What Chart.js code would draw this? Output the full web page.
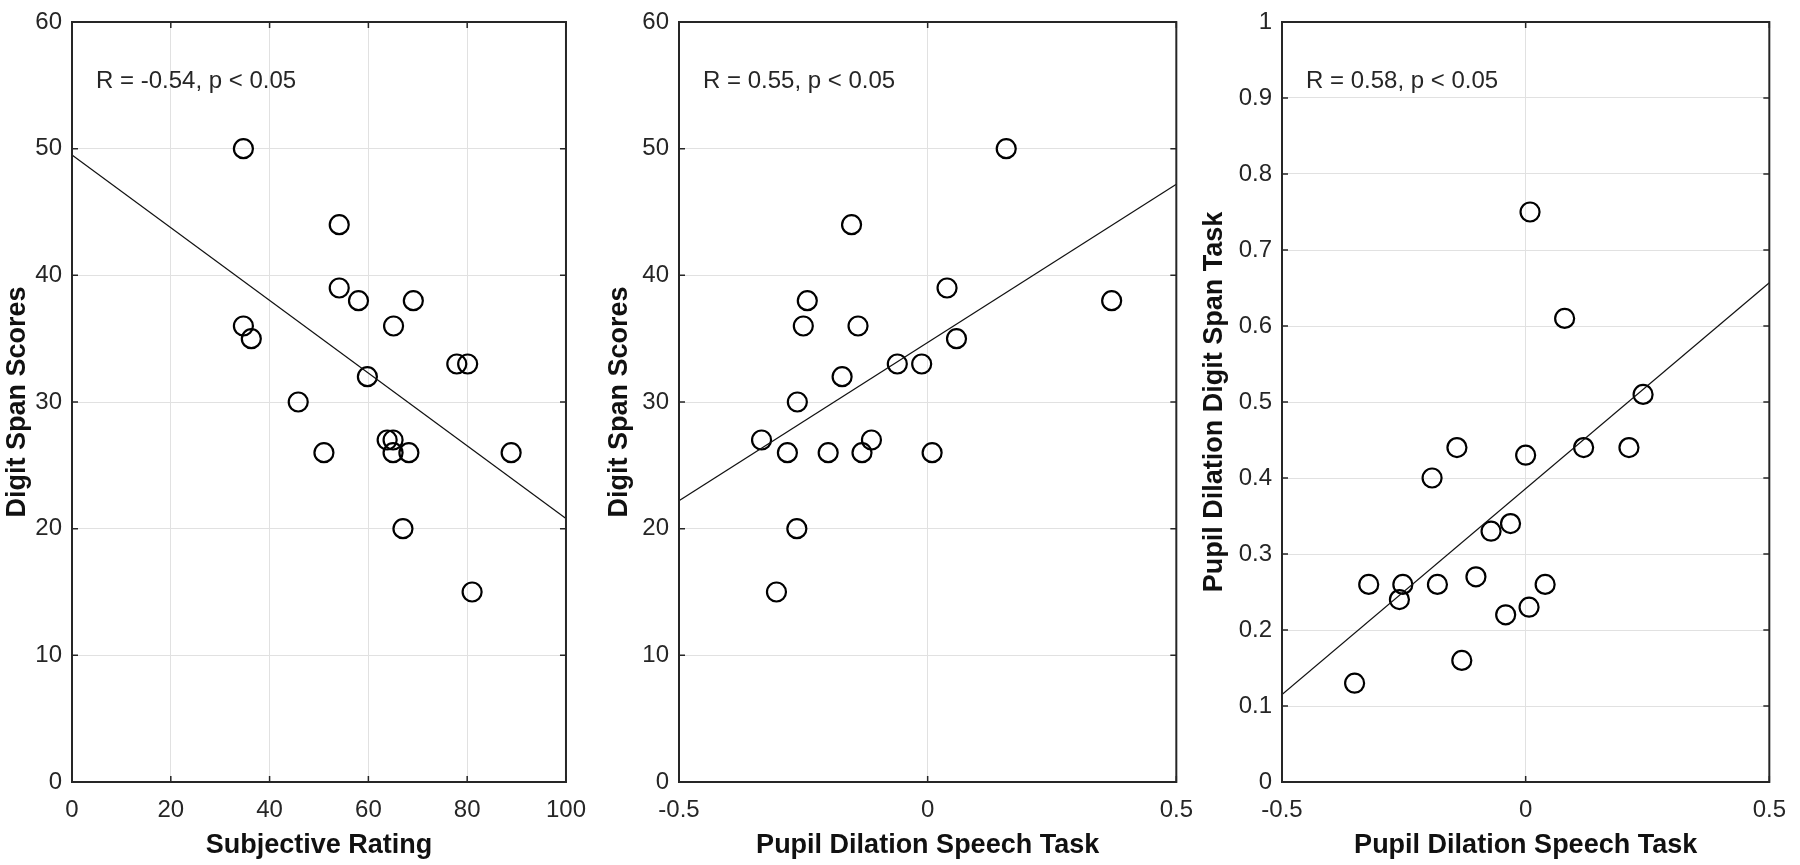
<!DOCTYPE html>
<html>
<head>
<meta charset="utf-8">
<script src="https://cdn.jsdelivr.net/npm/chart.js@4.4.1/dist/chart.umd.min.js"></script>
<style>
  html, body { margin: 0; padding: 0; background: #fff; }
  body { width: 1800px; height: 865px; position: relative; overflow: hidden; }
  canvas { position: absolute; top: 0; }
</style>
</head>
<body>
<canvas id="c1"></canvas>
<canvas id="c2"></canvas>
<canvas id="c3"></canvas>
<script>
// panel 1: subjective rating vs digit span
const ratingX = [34.7, 54.1, 54.1, 58.0, 69.1, 34.7, 36.3, 65.1, 77.9, 80.1, 59.8, 45.8, 51.0, 63.8, 65.0, 65.0, 68.2, 88.9, 67.0, 81.0];
const ratingScores = [50, 44, 39, 38, 38, 36, 35, 36, 33, 33, 32, 30, 26, 27, 27, 26, 26, 26, 20, 15];
const ratingFitX = [0, 100];
const ratingFitY = [49.5, 20.8];

// panel 2: speech task dilation vs digit span
const speechX = [0.158, -0.153, 0.039, -0.242, 0.37, -0.25, -0.14, 0.058, -0.061, -0.012, -0.172, -0.262, -0.334, -0.113, -0.282, -0.2, -0.132, 0.009, -0.263, -0.304];
const speechScores = [50, 44, 39, 38, 38, 36, 36, 35, 33, 33, 32, 30, 27, 27, 26, 26, 26, 26, 20, 15];
const speechFitX = [-0.5, 0.5];
const speechFitY = [22.2, 47.2];

// panel 3: speech task dilation vs digit span task dilation
const dilationX = [0.009, 0.08, 0.241, -0.141, 0.0, 0.119, 0.212, -0.192, -0.031, -0.071, -0.102, -0.322, -0.252, -0.181, 0.04, -0.259, 0.007, -0.041, -0.131, -0.351];
const dilationY = [0.75, 0.61, 0.51, 0.44, 0.43, 0.44, 0.44, 0.40, 0.34, 0.33, 0.27, 0.26, 0.26, 0.26, 0.26, 0.24, 0.23, 0.22, 0.16, 0.13];
const dilationFitX = [-0.5, 0.5];
const dilationFitY = [0.115, 0.657];

// ticks and labels
const ratingTicks = [0, 20, 40, 60, 80, 100];
const speechTicks = [-0.5, 0, 0.5];
const scoreTicks = [0, 10, 20, 30, 40, 50, 60];
const dilationTicks = [0, 0.1, 0.2, 0.3, 0.4, 0.5, 0.6, 0.7, 0.8, 0.9, 1];
const statLabels = ['R = -0.54, p < 0.05', 'R = 0.55, p < 0.05', 'R = 0.58, p < 0.05'];
const xTitles = ['Subjective Rating', 'Pupil Dilation Speech Task', 'Pupil Dilation Speech Task'];
const yTitles = ['Digit Span Scores', 'Digit Span Scores', 'Pupil Dilation Digit Span Task'];

const FONT = '"Liberation Sans", Arial, Helvetica, sans-serif';
const AXIS = '#262626';
const GRID = '#e1e1e1';
const H = 865, TOP = 14, BOTTOM = 782, PLOT_W = 498;

// box + inward ticks like MATLAB, plus the R/p note
const framePlugin = {
  id: 'frame',
  afterDraw(chart, args, opts) {
    const { ctx, chartArea: a, scales: { x, y } } = chart;
    ctx.save();
    ctx.strokeStyle = AXIS;
    ctx.lineWidth = 1.5;
    ctx.beginPath();
    x.ticks.forEach(t => {
      const px = x.getPixelForValue(t.value);
      ctx.moveTo(px, a.bottom); ctx.lineTo(px, a.bottom - 6);
      ctx.moveTo(px, a.top); ctx.lineTo(px, a.top + 6);
    });
    y.ticks.forEach(t => {
      const py = y.getPixelForValue(t.value);
      ctx.moveTo(a.left, py); ctx.lineTo(a.left + 6, py);
      ctx.moveTo(a.right, py); ctx.lineTo(a.right - 6, py);
    });
    ctx.stroke();
    ctx.lineWidth = 2;
    ctx.strokeRect(a.left, a.top, a.right - a.left, a.bottom - a.top);
    ctx.font = '24px ' + FONT;
    ctx.fillStyle = AXIS;
    ctx.textBaseline = 'middle';
    ctx.textAlign = 'left';
    ctx.fillText(opts.text, a.left + 24, a.top + 59);
    ctx.restore();
  }
};

function pts(xs, ys) {
  return xs.map((v, i) => ({ x: v, y: ys[i] }));
}

function makePanel(id, left, yW, width, cfg) {
  const canvas = document.getElementById(id);
  canvas.width = width;
  canvas.height = H;
  canvas.style.left = left + 'px';
  canvas.style.width = width + 'px';
  canvas.style.height = H + 'px';
  const padRight = width - yW - PLOT_W;

  new Chart(canvas, {
    type: 'scatter',
    data: {
      datasets: [
        {
          type: 'line',
          data: pts(cfg.fitX, cfg.fitY),
          borderColor: '#111',
          borderWidth: 1.2,
          pointRadius: 0,
          fill: false
        },
        {
          data: pts(cfg.xs, cfg.ys),
          pointStyle: 'circle',
          pointRadius: 9.5,
          pointBorderWidth: 2.2,
          pointBorderColor: '#000',
          pointBackgroundColor: 'rgba(0,0,0,0)'
        }
      ]
    },
    options: {
      responsive: false,
      animation: false,
      devicePixelRatio: 1,
      layout: { padding: { top: TOP, right: padRight, bottom: 0, left: 0 } },
      plugins: {
        legend: { display: false },
        tooltip: { enabled: false },
        frame: { text: cfg.stat }
      },
      scales: {
        x: {
          type: 'linear',
          min: cfg.xTicks[0],
          max: cfg.xTicks[cfg.xTicks.length - 1],
          afterBuildTicks: s => { s.ticks = cfg.xTicks.map(v => ({ value: v })); },
          afterFit: s => { s.height = H - BOTTOM; },
          border: { display: false },
          grid: { color: GRID, lineWidth: 1, drawTicks: false },
          ticks: {
            padding: 14,
            color: AXIS,
            maxRotation: 0,
            autoSkip: false,
            font: { family: FONT, size: 24 },
            callback: v => String(v)
          },
          title: {
            display: true,
            text: cfg.xTitle,
            color: '#111',
            font: { family: FONT, size: 27, weight: 'bold' },
            padding: { top: 0, bottom: 3 }
          }
        },
        y: {
          type: 'linear',
          min: cfg.yTicks[0],
          max: cfg.yTicks[cfg.yTicks.length - 1],
          afterBuildTicks: s => { s.ticks = cfg.yTicks.map(v => ({ value: v })); },
          afterFit: s => { s.width = yW; },
          border: { display: false },
          grid: { color: GRID, lineWidth: 1, drawTicks: false },
          ticks: {
            padding: 10,
            color: AXIS,
            autoSkip: false,
            font: { family: FONT, size: 24, lineHeight: 1 },
            callback: v => String(v)
          },
          title: {
            display: true,
            text: cfg.yTitle,
            color: '#111',
            font: { family: FONT, size: 27, weight: 'bold' },
            padding: { top: cfg.titlePad, bottom: 0 }
          }
        }
      }
    },
    plugins: [framePlugin]
  });
}

makePanel('c1', 0, 72, 600, {
  xs: ratingX, ys: ratingScores, fitX: ratingFitX, fitY: ratingFitY,
  xTicks: ratingTicks, yTicks: scoreTicks, stat: statLabels[0],
  xTitle: xTitles[0], yTitle: yTitles[0], titlePad: 1
});
makePanel('c2', 603, 76, 604, {
  xs: speechX, ys: speechScores, fitX: speechFitX, fitY: speechFitY,
  xTicks: speechTicks, yTicks: scoreTicks, stat: statLabels[1],
  xTitle: xTitles[1], yTitle: yTitles[1], titlePad: 0
});
makePanel('c3', 1198, 84, 602, {
  xs: dilationX, ys: dilationY, fitX: dilationFitX, fitY: dilationFitY,
  xTicks: speechTicks, yTicks: dilationTicks, stat: statLabels[2],
  xTitle: xTitles[2], yTitle: yTitles[2], titlePad: 0
});
</script>
</body>
</html>
